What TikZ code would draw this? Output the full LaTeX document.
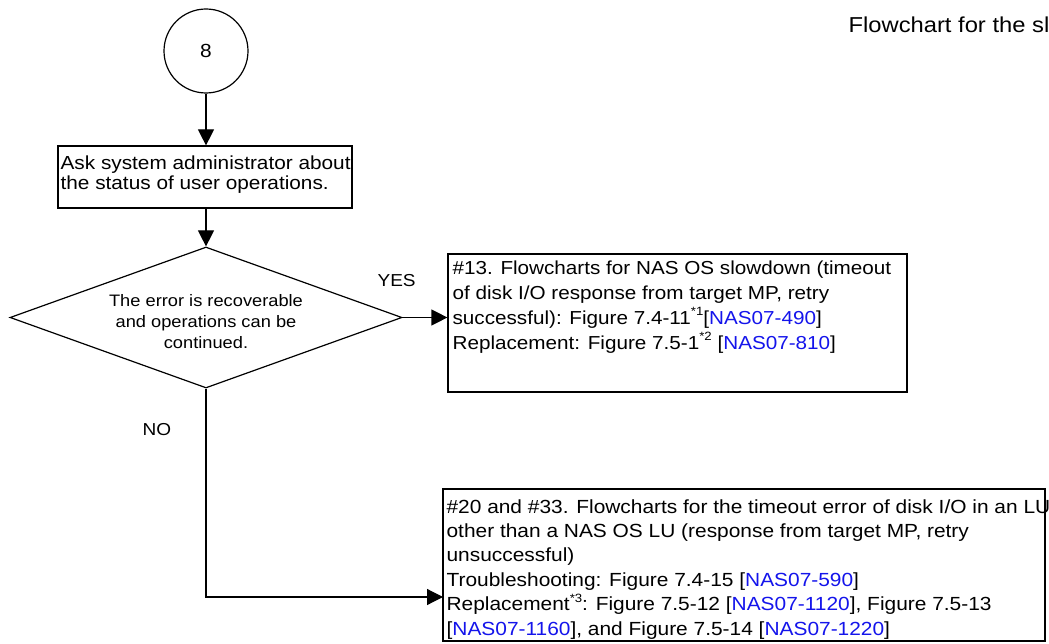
\documentclass[tikz,border=0pt]{standalone}
\usepackage{fontspec}
\setmainfont{Liberation Sans}[FakeStretch=1.1]
\usetikzlibrary{shapes.geometric,arrows.meta}
\definecolor{linkblue}{RGB}{20,20,235}
\newcommand{\lnk}[1]{[\textcolor{linkblue}{#1}]}
\newcommand{\sups}[1]{\raisebox{0.85ex}{\fontsize{12}{12}\selectfont #1}}
\newcommand{\leftlines}[1]{\vtop{\halign{##\hfil\cr#1\crcr}}}
\newcommand{\centerlines}[1]{\vtop{\halign{\hfil##\hfil\cr#1\crcr}}}
\begin{document}
\begin{tikzpicture}[x=1pt,y=-1pt,line width=1.2pt,
  >={Triangle[length=16pt,width=16pt]},
  box/.style={draw,rectangle,inner sep=0pt},
  txt/.style={inner sep=0pt,anchor=base west}]
\useasboundingbox (0,0) rectangle (1049,644);
% title
\node[txt,font=\fontsize{21.6}{24}\selectfont] (title) at (848,33) {Flowchart for the sl};
% shapes
\node[draw,circle,minimum size=84pt,inner sep=0pt,font=\fontsize{19}{20}\selectfont] (c8) at (206,51) {8};
\node[box,minimum width=294pt,minimum height=62pt] (ask) at (205,177) {};
\node[draw,diamond,minimum width=392pt,minimum height=141pt,inner sep=0pt] (dec) at (206,317.5) {};
\node[box,minimum width=459pt,minimum height=138pt] (b13) at (677.5,323) {};
\node[box,minimum width=602pt,minimum height=152pt] (b20) at (744,565) {};
\coordinate (noin) at (443,597);
% texts
\node[txt,font=\fontsize{18.9}{20}\selectfont] (asktxt) at (60,170)
  {\leftlines{Ask system administrator about\cr the status of user operations.}};
\node[inner sep=0pt,anchor=base,font=\fontsize{16.6}{21}\selectfont] (dectxt) at (206,306)
  {\centerlines{The error is recoverable\cr and operations can be\cr continued.}};
\node[txt,font=\fontsize{17.3}{20}\selectfont] (yes) at (377,287) {YES};
\node[inner sep=0pt,anchor=base,font=\fontsize{17.3}{20}\selectfont] (no) at (157,435) {NO};
\node[txt,font=\fontsize{18.8}{24.7}\selectfont] (b13txt) at (452,275)
  {\leftlines{\#13. Flowcharts for NAS OS slowdown (timeout\cr
   of disk I/O response from target MP, retry\cr
   successful): Figure 7.4-11\sups{*1}\lnk{NAS07-490}\cr
   Replacement: Figure 7.5-1\sups{*2} \lnk{NAS07-810}}};
\node[txt,font=\fontsize{19}{24.4}\selectfont] (b20txt) at (446,513)
  {\leftlines{\#20 and \#33. Flowcharts for the timeout error of disk I/O in an LU\cr
   other than a NAS OS LU (response from target MP, retry\cr
   unsuccessful)\cr
   Troubleshooting: Figure 7.4-15 \lnk{NAS07-590}\cr
   Replacement\sups{*3}: Figure 7.5-12 \lnk{NAS07-1120}, Figure 7.5-13\cr
   \lnk{NAS07-1160}, and Figure 7.5-14 \lnk{NAS07-1220}}};
% connectors
\draw[->] (c8.south) -- (c8.south |- ask.north);
\draw[->] (dec.north |- ask.south) -- (dec.north);
\draw[->] (dec.east) -- (dec.east -| b13.west);
\draw[->] (dec.south) |- (noin);
\end{tikzpicture}
\end{document}
